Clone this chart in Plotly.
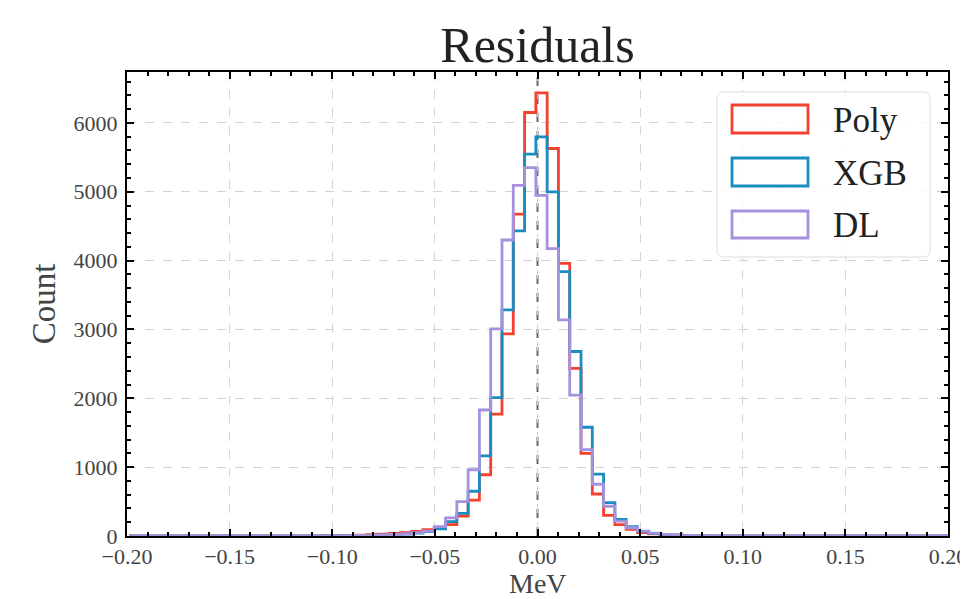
import numpy as np
import plotly.graph_objects as go

# ---- data ----
bin_start = -0.0008
bin_width = 0.0055
bin_index = list(range(-36, 37))  # 73 bins

# counts for bins k = -22 .. 18 (others zero)
k_lo = -22
poly_core = [1, 2, 3, 4, 6, 9, 13, 18, 26, 36, 50, 68, 92, 110, 165, 290, 520, 890, 1770, 2935,
             4675, 6152, 6436, 5629, 3960, 2435, 1200, 610, 300, 165, 95, 50, 30, 18, 11, 7, 4, 3, 2, 1, 1]
xgb_core = [0, 1, 1, 2, 3, 4, 6, 9, 13, 20, 28, 42, 65, 105, 210, 330, 650, 1165, 2010, 3285,
            4432, 5548, 5798, 4998, 3840, 2680, 1580, 900, 485, 240, 135, 68, 38, 22, 13, 8, 5, 3, 2, 1, 0]
dl_core = [0, 1, 1, 2, 3, 5, 7, 10, 15, 22, 32, 48, 72, 135, 262, 500, 962, 1830, 3008, 4300,
           5094, 5352, 4948, 4175, 3140, 2045, 1255, 752, 432, 215, 120, 72, 42, 25, 15, 9, 5, 3, 2, 1, 1]

series_names = ["Poly", "XGB", "DL"]
series_colors = ["#F4402F", "#1A8CC0", "#A591DD"]

x_tickvals = [-0.20, -0.15, -0.10, -0.05, 0.00, 0.05, 0.10, 0.15, 0.20]
x_ticktext = ["\u22120.20", "\u22120.15", "\u22120.10", "\u22120.05", "0.00", "0.05", "0.10", "0.15", "0.20"]
y_tickvals = [0, 1000, 2000, 3000, 4000, 5000, 6000]
y_ticktext = ["0", "1000", "2000", "3000", "4000", "5000", "6000"]


def full_counts(core):
    out = []
    for k in bin_index:
        j = k - k_lo
        out.append(core[j] if 0 <= j < len(core) else 0)
    return out


edges = [bin_start + k * bin_width for k in bin_index] + [bin_start + (bin_index[-1] + 1) * bin_width]

FONT = "Liberation Serif, DejaVu Serif, serif"

fig = go.Figure()
for name, core, color in zip(series_names, [poly_core, xgb_core, dl_core], series_colors):
    c = full_counts(core)
    fig.add_trace(go.Scatter(
        x=edges, y=c + [c[-1]], mode="lines", name=name,
        line=dict(color=color, width=2.8, shape="hv"),
        showlegend=False, hoverinfo="skip"))

fig.add_vline(x=0, line=dict(color="#666666", width=2, dash="dash"), layer="below")

axis_common = dict(
    showline=True, linecolor="black", linewidth=2, mirror="allticks",
    ticks="inside", ticklen=7, tickwidth=1.5, tickcolor="black",
    showgrid=True, gridcolor="#d4d4d4", griddash="dash", gridwidth=1,
    zeroline=False, automargin=False,
    tickfont=dict(family=FONT, size=22, color="#444444"),
)

fig.update_xaxes(
    range=[-0.2, 0.2], tickvals=x_tickvals, ticktext=x_ticktext,
    minor=dict(ticks="inside", ticklen=4, tickcolor="black", dtick=0.01, tick0=0, showgrid=False),
    **axis_common)
fig.update_yaxes(
    range=[0, 6740], tickvals=y_tickvals, ticktext=y_ticktext, ticklabelstandoff=3,
    minor=dict(ticks="inside", ticklen=4, tickcolor="black", dtick=200, tick0=0, showgrid=False),
    title=dict(text="Count", font=dict(family=FONT, size=33, color="#444444"), standoff=8),
    **axis_common)

# manual legend (matplotlib style with rectangle patches)
px_l, px_r, px_t, px_b = 127, 948, 72, 536
def px(xp):
    return (xp - px_l) / (px_r - px_l)
def py(yp):
    return (px_b - yp) / (px_b - px_t)

# x-axis title as an annotation so it stays inside the page
fig.add_annotation(xref="paper", yref="paper", x=0.5, y=py(583.5), text="MeV", showarrow=False,
                   xanchor="center", yanchor="middle",
                   font=dict(family=FONT, size=28, color="#444444"))

bx0, bx1, by0, by1 = px(717), px(930), py(257), py(92)
rx, ry = 0.008, 0.014
path = (f"M {bx0+rx},{by1} L {bx1-rx},{by1} Q {bx1},{by1} {bx1},{by1-ry} "
        f"L {bx1},{by0+ry} Q {bx1},{by0} {bx1-rx},{by0} L {bx0+rx},{by0} "
        f"Q {bx0},{by0} {bx0},{by0+ry} L {bx0},{by1-ry} Q {bx0},{by1} {bx0+rx},{by1} Z")
fig.add_shape(type="path", path=path, xref="paper", yref="paper",
              fillcolor="rgba(255,255,255,0.85)", line=dict(color="#dddddd", width=1))

rows = [(105, 133), (158, 186), (211, 238)]
for (t, b), name, color in zip(rows, series_names, series_colors):
    fig.add_shape(type="rect", xref="paper", yref="paper",
                  x0=px(732), x1=px(808), y0=py(b), y1=py(t),
                  line=dict(color=color, width=2.8), fillcolor="rgba(0,0,0,0)")
    fig.add_annotation(xref="paper", yref="paper", x=px(831), y=py((t + b) / 2 + 1),
                       text=name, showarrow=False, xanchor="left", yanchor="middle",
                       font=dict(family=FONT, size=35, color="#222222"))

# the page body adds an 8px offset; margins compensate so the plot area lands at
# x 127..948, y 72..536 in the screenshot
OFF = 8
fig.update_layout(
    width=968, height=599,
    margin=dict(l=127 - OFF, r=20 + OFF, t=72 - OFF, b=63 + OFF),
    paper_bgcolor="white", plot_bgcolor="white",
    title=dict(text="Residuals", x=0.5, xref="paper", y=1 - (44 - OFF) / 599, yref="container",
               xanchor="center", yanchor="middle", automargin=False,
               font=dict(family=FONT, size=50, color="#222222")),
    font=dict(family=FONT),
)

fig.write_html("out.html")
